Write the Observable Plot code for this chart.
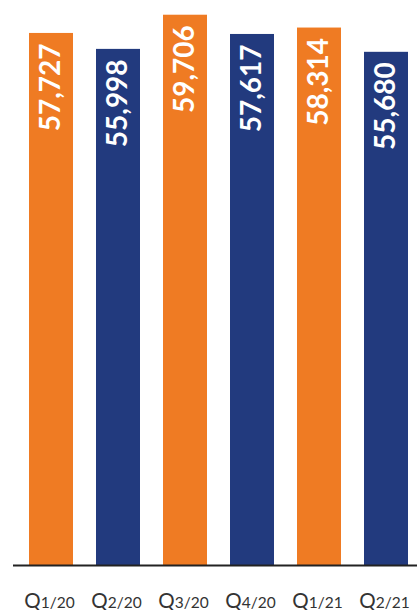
<!DOCTYPE html>
<html>
<head>
<meta charset="utf-8">
<script src="https://cdn.jsdelivr.net/npm/d3@7"></script>
<script src="https://cdn.jsdelivr.net/npm/@observablehq/plot@0.6"></script>
<style>
  html, body { margin: 0; padding: 0; background: #fff; }
  #chart svg { display: block; }
</style>
</head>
<body>
<div id="chart"></div>
<script>
const quarters = ["Q1/20", "Q2/20", "Q3/20", "Q4/20", "Q1/21", "Q2/21"];
const values = [57727, 55998, 59706, 57617, 58314, 55680];
const colors = ["#EF7B23", "#223A7E", "#EF7B23", "#223A7E", "#EF7B23", "#223A7E"];

const data = quarters.map((q, i) => ({q, v: values[i], c: colors[i]}));

const chart = Plot.plot({
  width: 417,
  height: 610,
  marginTop: 12,
  marginBottom: 45,
  marginLeft: 13,
  marginRight: 0,
  style: {background: "#fff"},
  x: {domain: quarters, range: [21.6, 416.5], paddingInner: 0.336, paddingOuter: 0.08, axis: null},
  y: {domain: [0, 60000], axis: null},
  marks: [
    Plot.barY(data, {x: "q", y: "v", fill: "c"}),
    Plot.ruleY([0], {stroke: "#222", strokeWidth: 2}),
    Plot.text(data, {
      x: "q", y: "v", text: d => d3.format(",")(d.v),
      rotate: -90, textAnchor: "end", lineAnchor: "middle", dy: 10,
      fill: "#fff", fontSize: 28, fontWeight: "bold", fontFamily: "Lato"
    }),
    Plot.text(data, {
      x: "q", frameAnchor: "bottom", text: "q", lineAnchor: "bottom", dy: 42, dx: -2,
      fill: "#333", fontSize: 20.5, fontFamily: "Lato", className: "qlabel"
    })
  ]
});

document.getElementById("chart").appendChild(chart);

d3.select(chart).selectAll(".qlabel text").each(function() {
  const t = this.textContent;
  const sel = d3.select(this);
  sel.text(null);
  sel.append("tspan").text(t.slice(0, 1));
  sel.append("tspan").attr("font-size", 15.5).text(t.slice(1));
});
</script>
</body>
</html>
